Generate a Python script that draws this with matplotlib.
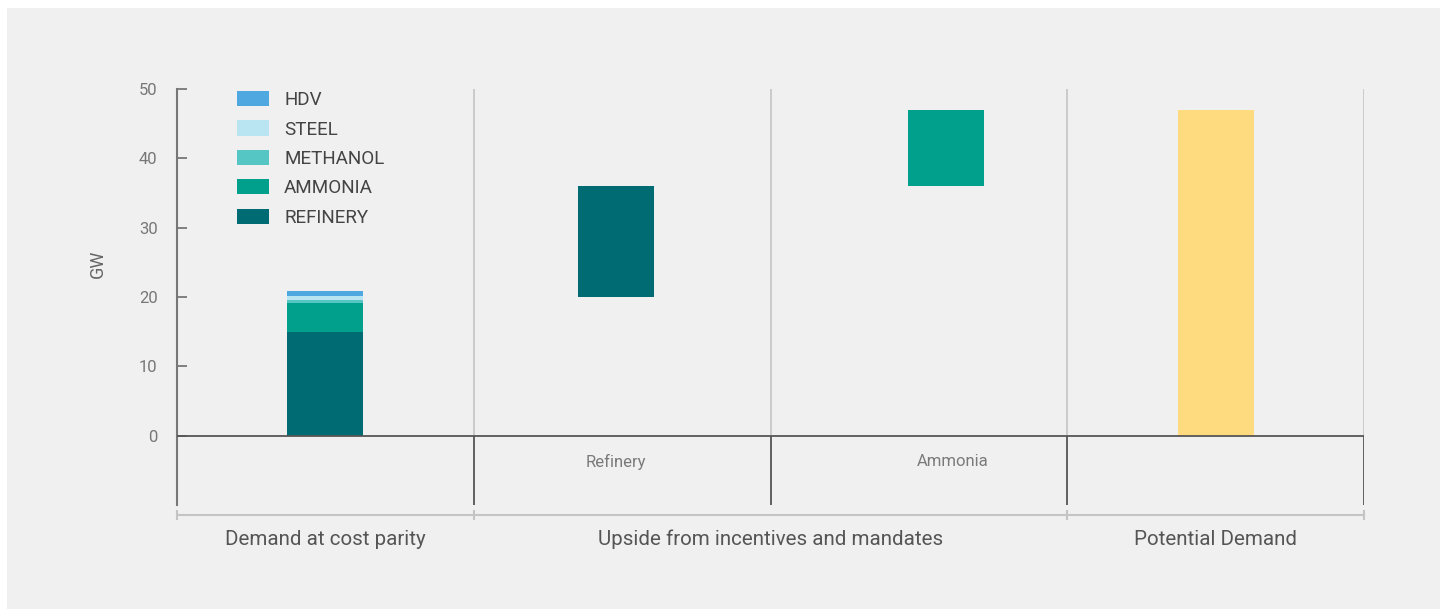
import matplotlib
matplotlib.use("Agg")
import matplotlib.pyplot as plt
from matplotlib.patches import Rectangle

plt.rcParams["font.family"] = ["Roboto", "DejaVu Sans"]

# --- data -------------------------------------------------------------
groups = ["Demand at cost parity", "Upside from incentives and mandates", "Potential Demand"]
group_spans = [(0, 1), (1, 3), (3, 4)]          # column ranges per group

segments = ["REFINERY", "AMMONIA", "METHANOL", "STEEL", "HDV"]
seg_colors = ["#006B73", "#00A08D", "#55C6C3", "#B9E4F2", "#4FA9E0"]
parity_values = [15.0, 4.1, 0.45, 0.55, 0.75]   # GW, stacked bottom-up

upside_labels = ["Refinery", "Ammonia"]
upside_base = [20.0, 36.0]
upside_values = [16.0, 11.0]
upside_colors = ["#006B73", "#00A08D"]

potential_value = 47.0
potential_color = "#FFDB80"

yticks = [0, 10, 20, 30, 40, 50]

# bar / label positions (column units)
bar_x = [0.5, 1.48, 2.59, 3.5]
sublabel_x = [1.48, 2.615]

# --- figure -----------------------------------------------------------
fig = plt.figure(figsize=(14.4, 6.09), dpi=100, facecolor="white")
bg = Rectangle((7 / 1440, 0), 1, 1 - 8 / 609, transform=fig.transFigure,
               facecolor="#F0F0F0", edgecolor="none", zorder=-10)
fig.patches.append(bg)

ax = fig.add_axes([177 / 1440, 104 / 609, 1187 / 1440, 416 / 609])
ax.set_facecolor("none")
ax.set_xlim(0, 4)
ax.set_ylim(-10, 50)

bar_w = 0.256

# stacked bar: demand at cost parity
bottom = 0.0
for name, val, col in zip(segments, parity_values, seg_colors):
    ax.bar(bar_x[0], val, bar_w, bottom=bottom, color=col, label=name, zorder=3)
    bottom += val

# floating upside bars
for x, b, v, c in zip(bar_x[1:3], upside_base, upside_values, upside_colors):
    ax.bar(x, v, bar_w, bottom=b, color=c, zorder=3)

# potential demand
ax.bar(bar_x[3], potential_value, bar_w, color=potential_color, zorder=3)

# column dividers
ax.vlines([1, 2, 3, 4], 0, 50, color="#C8C8C8", lw=1.3, zorder=1)
ax.vlines([1, 2, 3, 4], -10, 0, color="#555555", lw=1.3, zorder=2)
ax.axhline(0, color="#555555", lw=1.3, zorder=4)

# axes styling
for s in ["top", "right", "bottom"]:
    ax.spines[s].set_visible(False)
ax.spines["left"].set_color("#777777")
ax.spines["left"].set_linewidth(1.5)
ax.set_yticks(yticks)
ax.tick_params(axis="y", direction="in", length=7, width=1.3, color="#777777",
               labelcolor="#777777", labelsize=12, pad=14)
ax.set_xticks([])
ax.set_ylabel("GW", fontsize=13, color="#666666")
ax.yaxis.set_label_coords(-0.059, 0.58)

# sub labels in the upside columns
for x, lab in zip(sublabel_x, upside_labels):
    ax.text(x, -3.75, lab, ha="center", va="center", fontsize=12, color="#7A7A7A")

# group bracket under the axis
y_br = -11.4
ax.plot([0, 4], [y_br, y_br], color="#C4C4C4", lw=1.5, clip_on=False)
edges = sorted({e for span in group_spans for e in span})
for e in edges:
    ax.plot([e, e], [y_br - 0.6, y_br + 0.6], color="#C4C4C4", lw=1.5, clip_on=False)
for lab, (a, b) in zip(groups, group_spans):
    ax.text((a + b) / 2, -15.0, lab, ha="center", va="center", fontsize=14.8,
            color="#555555", clip_on=False)

# legend (HDV on top)
h, l = ax.get_legend_handles_labels()
leg = ax.legend(h[::-1], l[::-1], loc="upper left", bbox_to_anchor=(0.0505, 0.995),
                frameon=False, fontsize=13.6, handlelength=1.7, handleheight=0.85,
                labelspacing=0.6, handletextpad=0.8, borderaxespad=0, borderpad=0)
for t in leg.get_texts():
    t.set_color("#444444")

fig.savefig("out.png", dpi=100, facecolor=fig.get_facecolor())
